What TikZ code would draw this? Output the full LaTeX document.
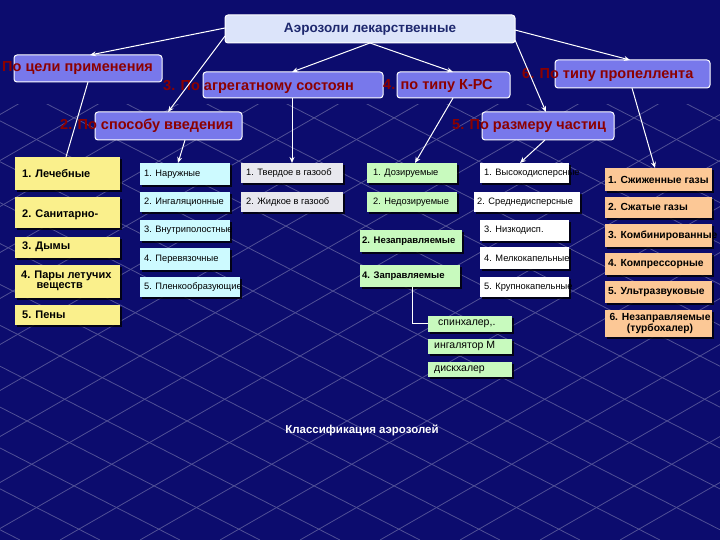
\documentclass[tikz,border=0pt]{standalone}
\usepackage{fontspec}
\setmainfont{Liberation Sans}
\usetikzlibrary{fit,shadows,arrows.meta}
\definecolor{bg}{RGB}{12,12,110}
\definecolor{grid}{RGB}{80,80,150}
\definecolor{cat}{RGB}{120,120,235}
\definecolor{catt}{RGB}{140,0,0}
\definecolor{ylw}{RGB}{250,240,140}
\definecolor{cyn}{RGB}{205,250,255}
\definecolor{gry}{RGB}{232,232,238}
\definecolor{grn}{RGB}{200,250,190}
\definecolor{org}{RGB}{252,200,150}
\definecolor{ttl}{RGB}{220,228,250}
\definecolor{ttlt}{RGB}{30,40,110}
\tikzset{
 shd/.style={drop shadow={fill=black,opacity=.8,shadow xshift=2pt,shadow yshift=-2pt}},
 catbox/.style={fill=cat,draw=white,line width=1pt,rounded corners=3pt},
 ybox/.style={fill=ylw,shd},
 cbox/.style={fill=cyn,shd},
 gbox/.style={fill=gry,shd},
 grbox/.style={fill=grn,shd},
 wbox/.style={fill=white,shd},
 obox/.style={fill=org,shd},
 cattxt/.style={text=catt,font=\fontsize{14.5}{16}\selectfont\bfseries,inner sep=0},
 smtxt/.style={font=\fontsize{9.3}{10}\selectfont,inner sep=0},
 bdtxt/.style={font=\fontsize{11}{11.5}\selectfont\bfseries,inner sep=0,align=left},
 obtxt/.style={font=\fontsize{10.3}{10.5}\selectfont\bfseries,inner sep=0,align=left},
 arr/.style={draw=white,line width=1pt,-{Stealth[length=6pt,width=5pt]}},
 ln/.style={draw=white,line width=1pt}
}
\begin{document}
\begin{tikzpicture}[x=1pt,y=-1pt]
\fill[bg] (0,0) rectangle (720,540);
\useasboundingbox (0,0) rectangle (720,540);
% background grid
\begin{scope}
\clip (0,105) rectangle (720,540);
\foreach \i in {-12,...,14} {
 \draw[grid,line width=0.8pt] (\i*80,80) -- (\i*80+900,540);
 \draw[grid,line width=0.8pt] (\i*80+300,80) -- (\i*80-500,540);
}
\end{scope}
% title
\node[fill=ttl,draw=white,line width=1pt,rounded corners=3pt,fit={(225,15)(515,43)},inner sep=0] (top) {};
\node[text=ttlt,font=\fontsize{13.5}{15}\selectfont\bfseries] at (top) {Аэрозоли лекарственные};
% categories
\node[catbox,fit={(14,55)(162,82)},inner sep=0] (c1) {};
\node[cattxt,anchor=west] at (2,68) {По цели применения};
\node[catbox,fit={(203,72)(383,98)},inner sep=0] (c3) {};
\node[cattxt,anchor=west] at (163,87) {3. По агрегатному состоян};
\node[catbox,fit={(397,72)(510,98)},inner sep=0] (c4) {};
\node[cattxt,anchor=west] at (383,86) {4. по типу К-РС};
\node[catbox,fit={(555,60)(710,88)},inner sep=0] (c6) {};
\node[cattxt,anchor=west] at (522,75) {6. По типу пропеллента};
\node[catbox,fit={(95,112)(242,140)},inner sep=0] (c2) {};
\node[cattxt,anchor=west] at (60,126) {2. По способу введения};
\node[catbox,fit={(482,112)(614,140)},inner sep=0] (c5) {};
\node[cattxt,anchor=west] at (452,126) {5. По размеру частиц};
% arrows from top
\coordinate (tl) at (225,28); \coordinate (tl2) at (225,36);
\coordinate (tb) at (370,43);
\coordinate (tr) at (515,30); \coordinate (tr2) at (515,40);
\draw[arr] (tl) -- (90,55);
\draw[arr] (tl2) -- (168,112);
\draw[arr] (tb) -- (292,72);
\draw[arr] (tb) -- (453,72);
\draw[arr] (tr) -- (630,60);
\draw[arr] (tr2) -- (546,112);
% yellow column
\node[ybox,fit={(15,157)(120,190)},inner sep=0] (y1) {};
\node[bdtxt,anchor=west] at (22,174) {1. Лечебные};
\node[ybox,fit={(15,197)(120,228)},inner sep=0] (y2) {};
\node[bdtxt,anchor=west] at (22,215) {2. Санитарно-};
\node[ybox,fit={(15,237)(120,258)},inner sep=0] (y3) {};
\node[bdtxt,anchor=west] at (22,247) {3. Дымы};
\node[ybox,fit={(15,265)(120,298)},inner sep=0] (y4) {};
\node[bdtxt,anchor=west,font=\fontsize{11}{10.5}\selectfont\bfseries] at (21,281) {4. Пары летучих\\\hspace*{1.4em}веществ};
\node[ybox,fit={(15,305)(120,325)},inner sep=0] (y5) {};
\node[bdtxt,anchor=west] at (22,315) {5. Пены};
% cyan column
\node[cbox,fit={(140,163)(230,185)},inner sep=0] (a1) {};
\node[smtxt,anchor=west] at (144,174) {1. Наружные};
\node[cbox,fit={(140,192)(230,212)},inner sep=0] (a2) {};
\node[smtxt,anchor=west] at (144,202) {2. Ингаляционные};
\node[cbox,fit={(140,220)(230,241)},inner sep=0] (a3) {};
\node[smtxt,anchor=west] at (144,230) {3. Внутриполостные};
\node[cbox,fit={(140,248)(230,270)},inner sep=0] (a4) {};
\node[smtxt,anchor=west] at (144,259) {4. Перевязочные};
\node[cbox,fit={(140,277)(240,297)},inner sep=0] (a5) {};
\node[smtxt,anchor=west] at (144,287) {5. Пленкообразующие};
% gray
\node[gbox,fit={(241,163)(343,183)},inner sep=0] (g1) {};
\node[smtxt,anchor=west] at (246,173) {1. Твердое в газооб};
\node[gbox,fit={(241,192)(343,212)},inner sep=0] (g2) {};
\node[smtxt,anchor=west] at (246,202) {2. Жидкое в газооб};
% green
\node[grbox,fit={(367,163)(457,183)},inner sep=0] (d1) {};
\node[smtxt,anchor=west] at (373,173) {1. Дозируемые};
\node[grbox,fit={(367,192)(457,212)},inner sep=0] (d2) {};
\node[smtxt,anchor=west] at (373,202) {2. Недозируемые};
\node[grbox,fit={(360,230)(462,252)},inner sep=0] (d3) {};
\node[bdtxt,anchor=west,font=\fontsize{9.5}{10}\selectfont\bfseries] at (362,241) {2. Незаправляемые};
\node[grbox,fit={(360,265)(460,287)},inner sep=0] (d4) {};
\node[bdtxt,anchor=west,font=\fontsize{9.5}{10}\selectfont\bfseries] at (362,276) {4. Заправляемые};
\node[grbox,fit={(428,316)(512,332)},inner sep=0] (s1) {};
\node[smtxt,anchor=west,font=\fontsize{10.5}{11}\selectfont] at (438,324) {спинхалер,.};
\node[grbox,fit={(428,339)(512,354)},inner sep=0] (s2) {};
\node[smtxt,anchor=west,font=\fontsize{10.5}{11}\selectfont] at (434,346) {ингалятор М};
\node[grbox,fit={(428,362)(512,377)},inner sep=0] (s3) {};
\node[smtxt,anchor=west,font=\fontsize{10.5}{11}\selectfont] at (434,370) {дискхалер};
\coordinate (bend) at (412,323);
\draw[ln] (d4.south -| bend) -- (bend) -- (s1.west |- bend);
% white
\node[wbox,fit={(480,163)(569,183)},inner sep=0] (w1) {};
\node[smtxt,anchor=west] at (484,173) {1. Высокодисперсные};
\node[wbox,fit={(474,192)(580,212)},inner sep=0] (w2) {};
\node[smtxt,anchor=west] at (477,202) {2. Среднедисперсные};
\node[wbox,fit={(480,220)(569,241)},inner sep=0] (w3) {};
\node[smtxt,anchor=west] at (484,230) {3. Низкодисп.};
\node[wbox,fit={(480,247)(569,269)},inner sep=0] (w4) {};
\node[smtxt,anchor=west] at (484,258) {4. Мелкокапельные};
\node[wbox,fit={(480,277)(569,297)},inner sep=0] (w5) {};
\node[smtxt,anchor=west] at (484,287) {5. Крупнокапельные};
% orange
\node[obox,fit={(605,168)(712,191)},inner sep=0] (o1) {};
\node[obtxt,anchor=west] at (608,180) {1. Сжиженные газы};
\node[obox,fit={(605,197)(712,218)},inner sep=0] (o2) {};
\node[obtxt,anchor=west] at (608,207) {2. Сжатые газы};
\node[obox,fit={(605,224)(712,247)},inner sep=0] (o3) {};
\node[obtxt,anchor=west] at (608,236) {3. Комбинированные};
\node[obox,fit={(605,253)(712,275)},inner sep=0] (o4) {};
\node[obtxt,anchor=west] at (608,264) {4. Компрессорные};
\node[obox,fit={(605,281)(712,303)},inner sep=0] (o5) {};
\node[obtxt,anchor=west] at (608,292) {5. Ультразвуковые};
\node[obox,fit={(605,310)(712,337)},inner sep=0] (o6) {};
\node[obtxt,align=center] at (660,323.5) {6. Незаправляемые\\(турбохалер)};
% connectors down
\draw[ln] (88,82) -- (66,157);
\draw[arr] (185,140) -- (178,163);
\draw[arr] (292,98) -- (292,163);
\draw[arr] (453,98) -- (415,163);
\draw[arr] (545,140) -- (520,163);
\draw[arr] (632,88) -- (655,168);
% caption
\node[text=white,font=\fontsize{11.5}{13}\selectfont\bfseries] (cap) at (362,430) {Классификация аэрозолей};
\end{tikzpicture}
\end{document}
